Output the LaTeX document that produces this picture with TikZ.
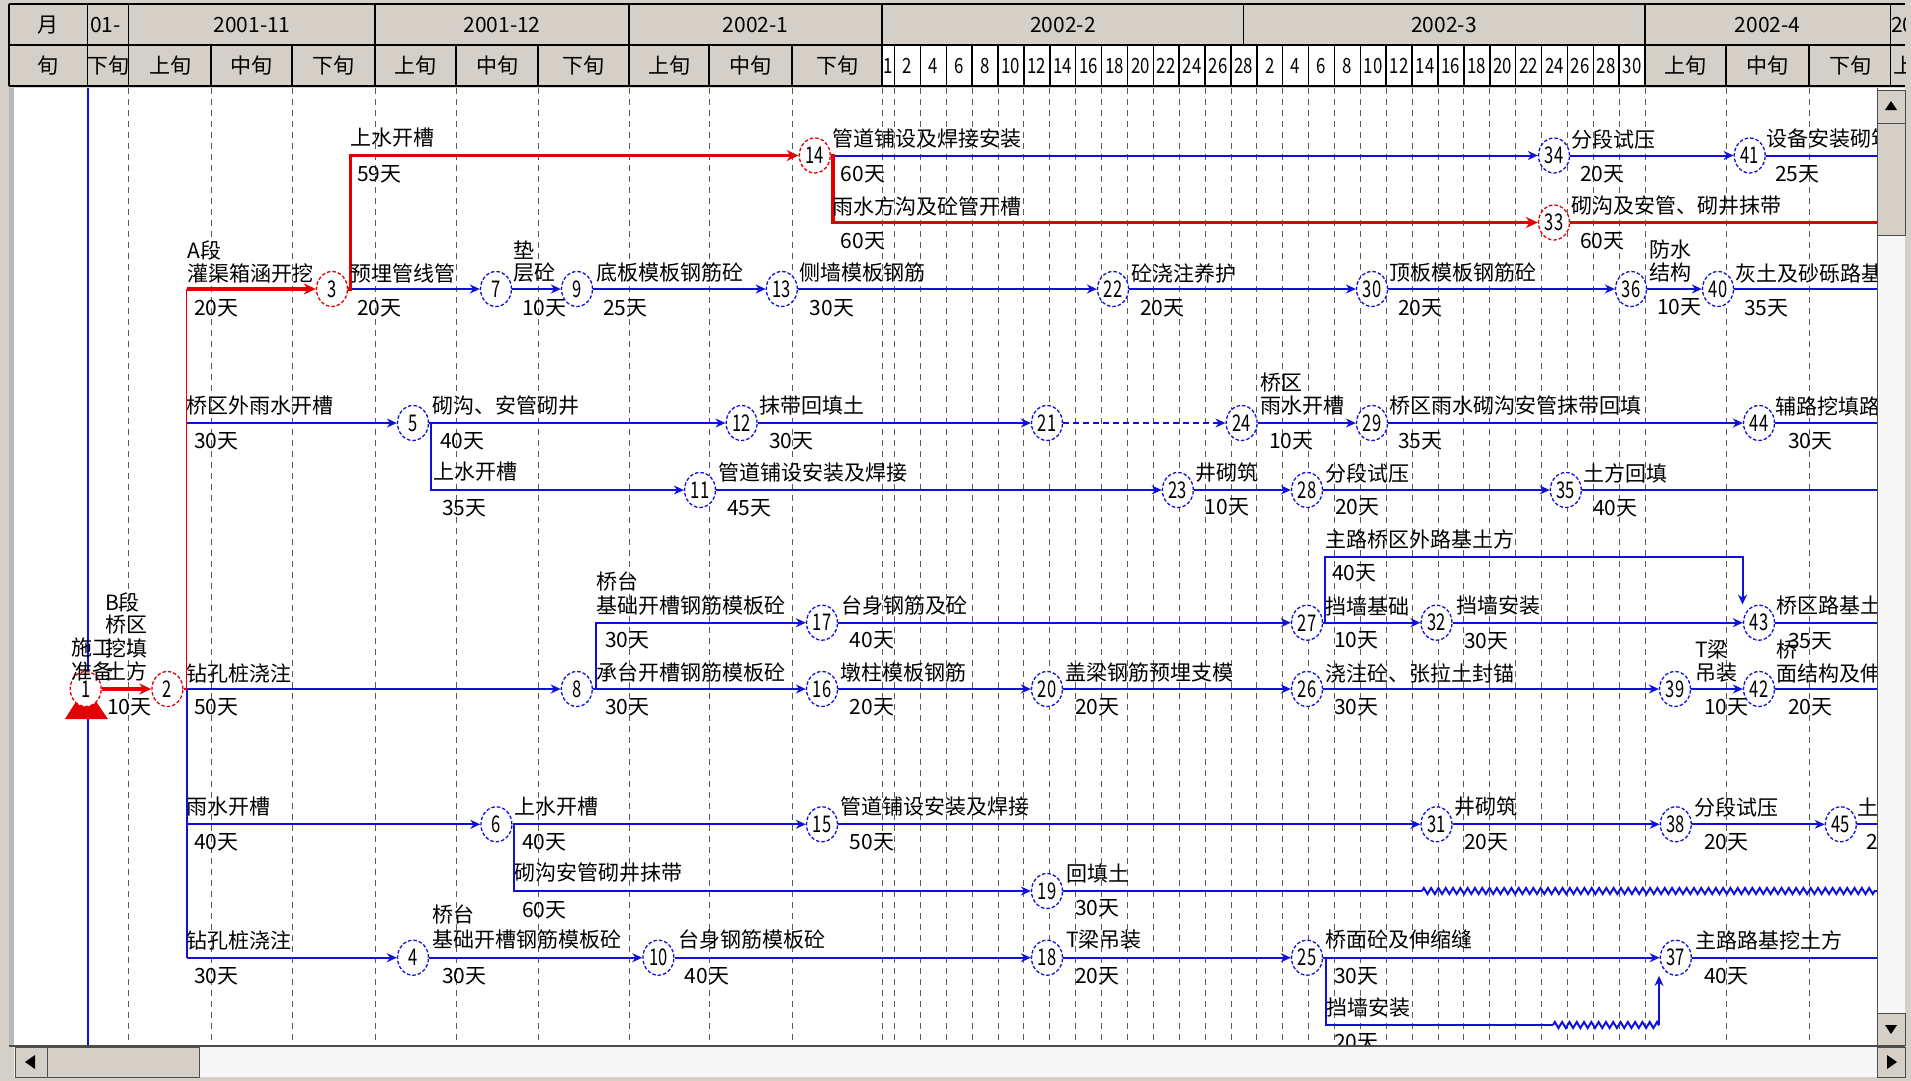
\documentclass[tikz,border=0pt]{standalone}
\usepackage{fontspec}
\usepackage{graphicx}
\setmainfont{Noto Sans CJK SC}
\usetikzlibrary{shapes.geometric,arrows.meta,decorations.pathmorphing}
\definecolor{pblue}{RGB}{16,16,220}
\definecolor{pred}{RGB}{228,0,0}
\definecolor{wgray}{RGB}{212,208,200}
\definecolor{gridc}{RGB}{90,90,90}
\newcommand\nn[1]{\scalebox{0.72}[1]{#1}}
\newcommand\hnum[1]{\scalebox{0.8}[1]{#1}}
\newcommand\lab[4]{\node[lbl] (#1) at (#2,#3) {#4};}
\begin{document}
\begin{tikzpicture}[x=1pt,y=-1pt,
  ev/.style={ellipse,draw=pblue,line width=1.3pt,dash pattern=on 3.5pt off 2pt,fill=white,minimum width=31pt,minimum height=35pt,inner sep=0pt,font=\fontsize{23}{23}\selectfont},
  evr/.style={ev,draw=pred},
  act/.style={draw=pblue,line width=2pt},
  acta/.style={act,-{Stealth[length=10pt,width=9pt]}},
  crit/.style={draw=pred,line width=3.6pt},
  crita/.style={crit,-{Stealth[length=12pt,width=11pt]}},
  lbl/.style={anchor=west,inner sep=0pt,font=\fontsize{21}{23}\selectfont},
  hd/.style={inner sep=0pt,font=\fontsize{21}{23}\selectfont},
  gridl/.style={draw=gridc,line width=0.9pt,dash pattern=on 6pt off 5pt},
  hline/.style={draw=black,line width=1.5pt},
  zz/.style={decorate,decoration={zigzag,segment length=7.3pt,amplitude=3pt}},
  btn/.style={fill=wgray,draw=gray!60!black,line width=1pt},
]
\fill[wgray] (0,0) rectangle (1911,1081);
\useasboundingbox (0,0) rectangle (1911,1081);

% ---------- header ----------
\fill[white] (882,45) rectangle (1645,86);
\draw[hline] (9,4) -- (1905,4);
\draw[hline] (9,45) -- (1905,45);
\draw[black,line width=2pt] (9,86) -- (1905,86);
\foreach \x in {9,87.6,128.6,375,629,882,1243.6,1645,1890.5} \draw[hline] (\x,4) -- (\x,45);
\foreach \x in {9,87.6,128.6,211,292,375,456,538,629,709,792,882,1726,1809,1890.5} \draw[hline] (\x,45) -- (\x,86);
\foreach \k in {0,...,29} \draw[hline] ({894.5+25.88*\k},45) -- ++(0,41);

\node[hd] (hm) at (48,25) {月};
\node[hd,anchor=west] (h01) at (90,25) {01-};
\node[hd] (h11) at (252,25) {2001-11};
\node[hd] (h12) at (502,25) {2001-12};
\node[hd] (h21) at (755.5,25) {2002-1};
\node[hd] (h22) at (1063,25) {2002-2};
\node[hd] (h23) at (1444,25) {2002-3};
\node[hd] (h24) at (1767.5,25) {2002-4};
\begin{scope}
\clip (1890.5,4) rectangle (1905,86);
\node[hd,anchor=west] (h25) at (1891,25) {20};
\node[hd,anchor=west] (x99) at (1893,66) {上旬};
\end{scope}
\node[hd] (hx) at (48,66) {旬};
\node[hd] (hx0) at (108,66) {下旬};
\foreach \x/\t [count=\i] in {170/上旬,251.5/中旬,333.5/下旬,415.5/上旬,497/中旬,583.5/下旬,669/上旬,750.5/中旬,837/下旬,1685.5/上旬,1767.5/中旬,1850/下旬}
  \node[hd] (xs\i) at (\x,66) {\t};
\node[hd] (fd1) at (888.2,66) {\hnum{1}};
\foreach \k in {0,...,13}{\pgfmathtruncatemacro\dd{2*(\k+1)}\node[hd] (fd\k x) at ({894.5+25.88*(\k+0.5)},66) {\hnum{\dd}};}
\foreach \k in {0,...,14}{\pgfmathtruncatemacro\dd{2*(\k+1)}\node[hd] (md\k x) at ({1256.8+25.88*(\k+0.5)},66) {\hnum{\dd}};}

% ---------- chart area ----------
\fill[white] (14,88) rectangle (1877,1045);
\fill[gray!55] (9,88) rectangle (14,1045);

\begin{scope}
\clip (14,88) rectangle (1877,1045);
\foreach \x in {128.6,211,292,375,456,538,629,709,792,882,1726,1809} \draw[gridl] (\x,88) -- (\x,1045);
\foreach \k in {0,...,29} \draw[gridl] ({894.5+25.88*\k},88) -- ++(0,957);
\draw[pblue,line width=1.6pt] (88,88) -- (88,1045);

\fill[pred] (77,700) -- (95,700) -- (108,719) -- (65,719) -- cycle;

% nodes
\node[evr] (n1) at (85.7,689) {\nn{1}};
\node[evr] (n2) at (167.4,689) {\nn{2}};
\node[evr] (n3) at (332,289) {\nn{3}};
\node[ev] (n4) at (413,957.7) {\nn{4}};
\node[ev] (n5) at (413,423) {\nn{5}};
\node[ev] (n6) at (496.4,824.3) {\nn{6}};
\node[ev] (n7) at (496,289) {\nn{7}};
\node[ev] (n8) at (576.8,689) {\nn{8}};
\node[ev] (n9) at (577,289) {\nn{9}};
\node[ev] (n10) at (658.4,957.7) {\nn{10}};
\node[ev] (n11) at (700,490) {\nn{11}};
\node[ev] (n12) at (741.6,423) {\nn{12}};
\node[ev] (n13) at (781.8,289) {\nn{13}};
\node[evr] (n14) at (814.8,155.5) {\nn{14}};
\node[ev] (n15) at (822,824.3) {\nn{15}};
\node[ev] (n16) at (822,689) {\nn{16}};
\node[ev] (n17) at (822,622.7) {\nn{17}};
\node[ev] (n18) at (1047,957.7) {\nn{18}};
\node[ev] (n19) at (1047,891) {\nn{19}};
\node[ev] (n20) at (1047,689) {\nn{20}};
\node[ev] (n21) at (1047,423) {\nn{21}};
\node[ev] (n22) at (1113,289) {\nn{22}};
\node[ev] (n23) at (1177.8,490) {\nn{23}};
\node[ev] (n24) at (1241.6,423) {\nn{24}};
\node[ev] (n25) at (1307,957.7) {\nn{25}};
\node[ev] (n26) at (1307,689) {\nn{26}};
\node[ev] (n27) at (1307,622.7) {\nn{27}};
\node[ev] (n28) at (1307,490) {\nn{28}};
\node[ev] (n29) at (1372,423) {\nn{29}};
\node[ev] (n30) at (1372,289) {\nn{30}};
\node[ev] (n31) at (1436.5,824.3) {\nn{31}};
\node[ev] (n32) at (1436.5,622.7) {\nn{32}};
\node[evr] (n33) at (1554,222.5) {\nn{33}};
\node[ev] (n34) at (1554,155.5) {\nn{34}};
\node[ev] (n35) at (1565.8,490) {\nn{35}};
\node[ev] (n36) at (1631,289) {\nn{36}};
\node[ev] (n37) at (1675.8,957.7) {\nn{37}};
\node[ev] (n38) at (1675.8,824.3) {\nn{38}};
\node[ev] (n39) at (1675,689) {\nn{39}};
\node[ev] (n40) at (1718,289) {\nn{40}};
\node[ev] (n41) at (1749.7,155.5) {\nn{41}};
\node[ev] (n42) at (1759,689) {\nn{42}};
\node[ev] (n43) at (1759,622.7) {\nn{43}};
\node[ev] (n44) at (1759,423) {\nn{44}};
\node[ev] (n45) at (1840.8,824.3) {\nn{45}};

% bend / free-end coordinates
\coordinate (b2) at (186.6,689);
\coordinate (b2t) at (186.6,289);
\coordinate (b2d) at (186.6,423);
\coordinate (b2e) at (186.6,824.3);
\coordinate (b2f) at (186.6,957.7);
\coordinate (c3) at (350.4,289);
\coordinate (c3t) at (350.4,155.5);
\coordinate (c14) at (832.7,155.5);
\coordinate (c14b) at (832.7,222.5);
\coordinate (c5) at (431,423);
\coordinate (c5b) at (431,490);
\coordinate (c8) at (596,689);
\coordinate (c8b) at (596,622.7);
\coordinate (c6) at (514,824.3);
\coordinate (c6b) at (514,891);
\coordinate (c27) at (1325,622.7);
\coordinate (c27b) at (1325,556.7);
\coordinate (c27c) at (1742.5,556.7);
\coordinate (c25) at (1326,957.7);
\coordinate (c25b) at (1326,1025);
\coordinate (z25a) at (1553,1025);
\coordinate (z25b) at (1659,1025);
\coordinate (z9) at (1422,891);
\coordinate (e1) at (1877,155.5);
\coordinate (e2) at (1877,222.5);
\coordinate (e3) at (1877,289);
\coordinate (e4) at (1877,423);
\coordinate (e5) at (1877,490);
\coordinate (e6) at (1877,622.7);
\coordinate (e7) at (1877,689);
\coordinate (e8) at (1877,824.3);
\coordinate (e9) at (1877,891);
\coordinate (e10) at (1877,957.7);

% blue activities
\draw[act] (b2) -- (b2f);
\draw[acta] (n3) -- (n7);
\draw[acta] (n7) -- (n9);
\draw[acta] (n9) -- (n13);
\draw[acta] (n13) -- (n22);
\draw[acta] (n22) -- (n30);
\draw[acta] (n30) -- (n36);
\draw[acta] (n36) -- (n40);
\draw[act] (n40) -- (e3);
\draw[acta] (n14) -- (n34);
\draw[acta] (n34) -- (n41);
\draw[act] (n41) -- (e1);
\draw[acta] (b2d) -- (n5);
\draw[acta] (n5) -- (n12);
\draw[acta] (n12) -- (n21);
\draw[acta,dash pattern=on 6pt off 4pt] (n21) -- (n24);
\draw[acta] (n24) -- (n29);
\draw[acta] (n29) -- (n44);
\draw[act] (n44) -- (e4);
\draw[acta] (n5) -- (c5) -- (c5b) -- (n11);
\draw[acta] (n11) -- (n23);
\draw[acta] (n23) -- (n28);
\draw[acta] (n28) -- (n35);
\draw[act] (n35) -- (e5);
\draw[acta] (n2) -- (n8);
\draw[acta] (n8) -- (n16);
\draw[acta] (n16) -- (n20);
\draw[acta] (n20) -- (n26);
\draw[acta] (n26) -- (n39);
\draw[acta] (n39) -- (n42);
\draw[act] (n42) -- (e7);
\draw[acta] (n8) -- (c8) -- (c8b) -- (n17);
\draw[acta] (n17) -- (n27);
\draw[acta] (n27) -- (n32);
\draw[acta] (n32) -- (n43);
\draw[act] (n43) -- (e6);
\draw[acta] (n27) -- (c27) -- (c27b) -- (c27c) -- (c27c |- n43.north);
\draw[acta] (b2e) -- (n6);
\draw[acta] (n6) -- (n15);
\draw[acta] (n15) -- (n31);
\draw[acta] (n31) -- (n38);
\draw[acta] (n38) -- (n45);
\draw[act] (n45) -- (e8);
\draw[acta] (n6) -- (c6) -- (c6b) -- (n19);
\draw[act] (n19) -- (z9);
\draw[act,zz] (z9) -- (e9);
\draw[acta] (b2f) -- (n4);
\draw[acta] (n4) -- (n10);
\draw[acta] (n10) -- (n18);
\draw[acta] (n18) -- (n25);
\draw[acta] (n25) -- (n37);
\draw[act] (n37) -- (e10);
\draw[act] (n25) -- (c25) -- (c25b) -- (z25a);
\draw[act,zz] (z25a) -- (z25b);
\draw[acta] (z25b) -- (z25b |- n37.south);

% critical path (red)
\draw[crita] (n1) -- (n2);
\draw[pred,line width=1.6pt] (n2) -- (b2) -- (b2t);
\draw[crita] (b2t) -- (n3);
\draw[crita,line join=miter] (n3) -- (c3) -- (c3t) -- (n14);
\draw[crita,line join=miter] (n14) -- (c14) -- (c14b) -- (n33);
\draw[crit] (n33) -- (e2);

% labels
\lab{t1}{350}{138}{上水开槽}
\lab{t1d}{357}{174}{59天}
\lab{a3a}{187.5}{250}{A段}
\lab{a3b}{187.5}{273}{灌渠箱涵开挖}
\lab{a3d}{194}{308}{20天}
\lab{a7}{350.4}{273}{预埋管线管}
\lab{a7d}{357}{308}{20天}
\lab{a9a}{513}{250}{垫}
\lab{a9b}{513}{273}{层砼}
\lab{a9d}{522}{308}{10天}
\lab{a13}{596}{273}{底板模板钢筋砼}
\lab{a13d}{603}{308}{25天}
\lab{a34}{832.7}{139}{管道铺设及焊接安装}
\lab{a34d}{840.7}{174}{60天}
\lab{a33}{832.7}{206}{雨水方沟及砼管开槽}
\lab{a33d}{840.7}{241}{60天}
\lab{a22}{799.6}{273}{侧墙模板钢筋}
\lab{a22d}{809.5}{308}{30天}
\lab{a30}{1131}{273}{砼浇注养护}
\lab{a30d}{1140}{308}{20天}
\lab{a41}{1571}{139}{分段试压}
\lab{a41d}{1580}{174}{20天}
\lab{a41x}{1766}{139}{设备安装砌筑}
\lab{a41xd}{1775}{174}{25天}
\lab{a33x}{1571}{206}{砌沟及安管、砌井抹带}
\lab{a33xd}{1580}{241}{60天}
\lab{a36}{1389}{273}{顶板模板钢筋砼}
\lab{a36d}{1398}{308}{20天}
\lab{a40a}{1649}{250}{防水}
\lab{a40b}{1649}{273}{结构}
\lab{a40d}{1657}{307}{10天}
\lab{a40x}{1735}{273}{灰土及砂砾路基}
\lab{a40xd}{1744}{308}{35天}
\lab{a5}{186.6}{406}{桥区外雨水开槽}
\lab{a5d}{194}{441}{30天}
\lab{a12}{432}{406}{砌沟、安管砌井}
\lab{a12d}{440}{441}{40天}
\lab{a21}{759.5}{406}{抹带回填土}
\lab{a21d}{769}{441}{30天}
\lab{a29a}{1260}{383}{桥区}
\lab{a29b}{1260}{406}{雨水开槽}
\lab{a29d}{1269}{441}{10天}
\lab{a44}{1389}{406}{桥区雨水砌沟安管抹带回填}
\lab{a44d}{1398}{441}{35天}
\lab{a44x}{1775}{406}{辅路挖填路基}
\lab{a44xd}{1788}{441}{30天}
\lab{a11}{433}{472}{上水开槽}
\lab{a11d}{442}{508}{35天}
\lab{a23}{718}{473}{管道铺设安装及焊接}
\lab{a23d}{727}{508}{45天}
\lab{a28}{1195.6}{473}{井砌筑}
\lab{a28d}{1204.5}{507}{10天}
\lab{a35}{1325}{473}{分段试压}
\lab{a35d}{1335}{507}{20天}
\lab{a35x}{1583}{473}{土方回填}
\lab{a35xd}{1593}{508}{40天}
\lab{a43u}{1325}{540}{主路桥区外路基土方}
\lab{a43ud}{1332}{573}{40天}
\lab{a17a}{596}{582}{桥台}
\lab{a17b}{596}{606}{基础开槽钢筋模板砼}
\lab{a17d}{605}{640}{30天}
\lab{a27}{841.6}{606}{台身钢筋及砼}
\lab{a27d}{849.6}{640}{40天}
\lab{a32}{1325}{606}{挡墙基础}
\lab{a32d}{1334}{640}{10天}
\lab{a43}{1456}{606}{挡墙安装}
\lab{a43d}{1464}{641}{30天}
\lab{a43x}{1776}{606}{桥区路基土方}
\lab{a43xd}{1788}{641}{35天}
\lab{a2a}{105}{602}{B段}
\lab{a2b}{105}{625}{桥区}
\lab{a2c}{105}{648}{挖填}
\lab{a2e}{105}{671}{土方}
\lab{a1a}{71}{648}{施工}
\lab{a1b}{71}{671}{准备}
\lab{a2d}{107}{707}{10天}
\lab{a8}{186.6}{673}{钻孔桩浇注}
\lab{a8d}{194}{707}{50天}
\lab{a16}{596}{673}{承台开槽钢筋模板砼}
\lab{a16d}{605}{707}{30天}
\lab{a20}{840.7}{673}{墩柱模板钢筋}
\lab{a20d}{849.6}{707}{20天}
\lab{a26}{1064.8}{673}{盖梁钢筋预埋支模}
\lab{a26d}{1075}{707}{20天}
\lab{a39}{1325}{673}{浇注砼、张拉土封锚}
\lab{a39d}{1334}{707}{30天}
\lab{a42a}{1695}{650}{T梁}
\lab{a42b}{1695}{673}{吊装}
\lab{a42d}{1704}{707}{10天}
\lab{a42xa}{1776}{650}{桥}
\lab{a42xb}{1776}{673}{面结构及伸缩缝}
\lab{a42xd}{1788}{707}{20天}
\lab{a6}{186.6}{807}{雨水开槽}
\lab{a6d}{194}{842}{40天}
\lab{a15}{514}{807}{上水开槽}
\lab{a15d}{522}{842}{40天}
\lab{a31}{840.7}{807}{管道铺设安装及焊接}
\lab{a31d}{849.6}{842}{50天}
\lab{a38}{1454.7}{807}{井砌筑}
\lab{a38d}{1464}{842}{20天}
\lab{a45}{1694}{807}{分段试压}
\lab{a45d}{1704}{842}{20天}
\lab{a45x}{1857}{807}{土方回填}
\lab{a45xd}{1866}{842}{20天}
\lab{a19}{514}{873}{砌沟安管砌井抹带}
\lab{a19d}{522}{910}{60天}
\lab{a19x}{1066}{874}{回填土}
\lab{a19xd}{1075}{908}{30天}
\lab{a4}{186.6}{940}{钻孔桩浇注}
\lab{a4d}{194}{976}{30天}
\lab{a10a}{432}{915}{桥台}
\lab{a10b}{432}{940}{基础开槽钢筋模板砼}
\lab{a10d}{442}{976}{30天}
\lab{a18}{678}{940}{台身钢筋模板砼}
\lab{a18d}{684.5}{976}{40天}
\lab{a25}{1066}{940}{T梁吊装}
\lab{a25d}{1075}{976}{20天}
\lab{a37}{1325}{940}{桥面砼及伸缩缝}
\lab{a37d}{1334}{976}{30天}
\lab{a37b}{1326}{1008}{挡墙安装}
\lab{a37bd}{1334}{1042}{20天}
\lab{a37x}{1695}{940}{主路路基挖土方}
\lab{a37xd}{1704}{976}{40天}
\end{scope}

% ---------- scrollbars ----------
\fill[gray!6] (1877,88) rectangle (1905,1045);
\draw[gray!60!black,line width=1pt] (1877,88) -- (1877,1045);
\draw[btn] (1877,90) rectangle (1905,123);
\fill (1891,101) -- (1885,110) -- (1897,110) -- cycle;
\draw[btn] (1877,123) rectangle (1905,235);
\draw[btn] (1877,1013) rectangle (1905,1045);
\fill (1891,1034) -- (1885,1025) -- (1897,1025) -- cycle;
\fill[gray!6] (14,1047) rectangle (1877,1077);
\draw[gray!60!black,line width=1.5pt] (9,1046) -- (1905,1046);
\draw[btn] (15.6,1047) rectangle (47,1077);
\fill (25,1062) -- (35,1055) -- (35,1069) -- cycle;
\draw[btn] (47,1047) rectangle (199,1077);
\draw[btn] (1877,1047) rectangle (1905,1077);
\fill (1897,1062) -- (1887,1055) -- (1887,1069) -- cycle;
\end{tikzpicture}
\end{document}
